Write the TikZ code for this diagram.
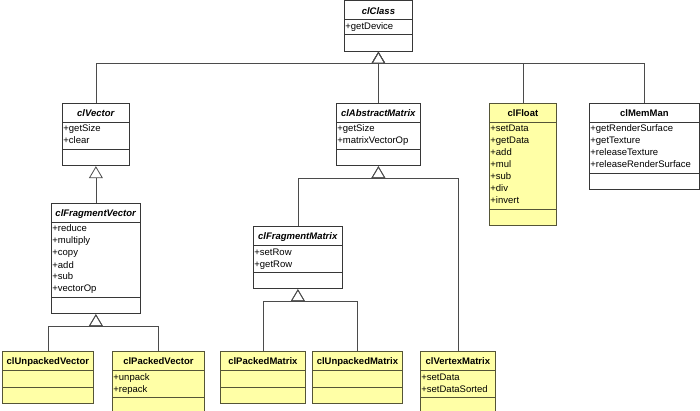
\documentclass[tikz,border=0pt]{standalone}
\usepackage{fontspec}
\setmainfont{Liberation Sans}
\usepackage{tikz}
\usetikzlibrary{shapes.multipart,arrows.meta}
\definecolor{clsyellow}{RGB}{255,255,166}
\definecolor{clsedge}{RGB}{55,55,55}
\definecolor{hotedge}{RGB}{85,85,55}
\definecolor{linkgray}{RGB}{75,75,75}
\newcommand{\hdr}[1]{\hskip 0pt plus 1filll\rule[-4pt]{0pt}{16pt}\textbf{#1}\hskip 0pt plus 1filll\null}
\newcommand{\ahdr}[1]{\hdr{\textit{#1}}}
\newcommand{\emp}{\rule{0pt}{14pt}}
\tikzset{
cls/.style={rectangle split, rectangle split parts=3, draw=clsedge, fill=white, line width=0.8pt, anchor=north west, inner xsep=1pt, inner ysep=1pt, align=left, font=\fontsize{9.5}{12}\selectfont\setlength{\parindent}{0pt}},
hot/.style={cls, fill=clsyellow, draw=hotedge},
gen/.style={draw=linkgray, line width=0.8pt, -{Triangle[open, length=12pt, width=14pt]}}
}
\begin{document}
\begin{tikzpicture}[x=1pt,y=-1pt]
\useasboundingbox (0,0) rectangle (700,411);
\node[cls, text width=66pt] (clClass) at (344,0.5) {\ahdr{clClass}\nodepart{two}\strut+getDevice\nodepart{three}\emp};
\node[cls, text width=65pt] (clVector) at (62,103) {\ahdr{clVector}\nodepart{two}\strut+getSize\\\strut+clear\nodepart{three}\emp};
\node[cls, text width=82pt] (clAbstractMatrix) at (336,103) {\ahdr{clAbstractMatrix}\nodepart{two}\strut+getSize\\\strut+matrixVectorOp\nodepart{three}\emp};
\node[hot, text width=65pt] (clFloat) at (489,103) {\hdr{clFloat}\nodepart{two}\strut+setData\\\strut+getData\\\strut+add\\\strut+mul\\\strut+sub\\\strut+div\\\strut+invert\nodepart{three}\emp};
\node[cls, text width=108pt] (clMemMan) at (589,103) {\hdr{clMemMan}\nodepart{two}\strut+getRenderSurface\\\strut+getTexture\\\strut+releaseTexture\\\strut+releaseRenderSurface\nodepart{three}\emp};
\node[cls, text width=87pt] (clFragmentVector) at (51,203) {\ahdr{clFragmentVector}\nodepart{two}\strut+reduce\\\strut+multiply\\\strut+copy\\\strut+add\\\strut+sub\\\strut+vectorOp\nodepart{three}\emp};
\node[cls, text width=87pt] (clFragmentMatrix) at (253,226) {\ahdr{clFragmentMatrix}\nodepart{two}\strut+setRow\\\strut+getRow\nodepart{three}\emp};
\node[hot, text width=89pt] (clUnpackedVector) at (2,351) {\hdr{clUnpackedVector}\nodepart{two}\emp\nodepart{three}\emp};
\node[hot, text width=90pt] (clPackedVector) at (112,351) {\hdr{clPackedVector}\nodepart{two}\strut+unpack\\\strut+repack\nodepart{three}\emp};
\node[hot, text width=83pt] (clPackedMatrix) at (220,351) {\hdr{clPackedMatrix}\nodepart{two}\emp\nodepart{three}\emp};
\node[hot, text width=88pt] (clUnpackedMatrix) at (312,351) {\hdr{clUnpackedMatrix}\nodepart{two}\emp\nodepart{three}\emp};
\node[hot, text width=73pt] (clVertexMatrix) at (420,351) {\hdr{clVertexMatrix}\nodepart{two}\strut+setData\\\strut+setDataSorted\nodepart{three}\emp};
\coordinate (jClass) at ([yshift=-12pt]clClass.south);
\coordinate (jAbstract) at ([yshift=-12pt]clAbstractMatrix.south);
\coordinate (jFragVec) at ([yshift=-12pt]clFragmentVector.south);
\coordinate (jFragMat) at ([yshift=-12pt]clFragmentMatrix.south);
\foreach \c in {clVector,clAbstractMatrix,clFloat,clMemMan}\draw[gen] (\c.north) |- (jClass) -- (clClass.south);
\draw[gen] (clFragmentVector.north) -- (clVector.south);
\foreach \c in {clUnpackedVector,clPackedVector}\draw[gen] (\c.north) |- (jFragVec) -- (clFragmentVector.south);
\foreach \c in {clFragmentMatrix,clVertexMatrix}\draw[gen] (\c.north) |- (jAbstract) -- (clAbstractMatrix.south);
\foreach \c in {clPackedMatrix,clUnpackedMatrix}\draw[gen] (\c.north) |- (jFragMat) -- (clFragmentMatrix.south);
\end{tikzpicture}
\end{document}
